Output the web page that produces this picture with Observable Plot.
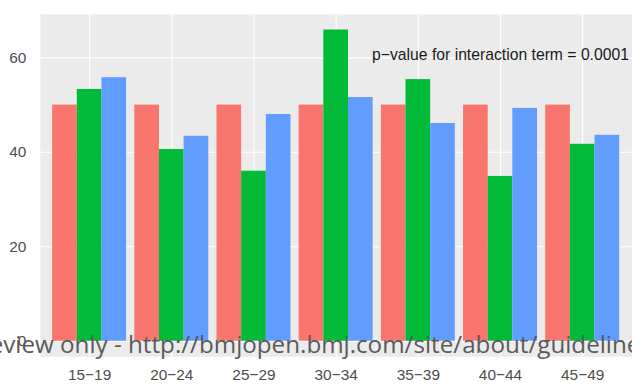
<!DOCTYPE html>
<html><head><meta charset="utf-8">
<script src="https://cdn.jsdelivr.net/npm/d3@7"></script>
<script src="https://cdn.jsdelivr.net/npm/@observablehq/plot@0.6"></script>
<style>
html,body{margin:0;padding:0;background:#fff;overflow:hidden;width:632px;height:389px}
#wrap{position:relative;width:632px;height:389px;overflow:hidden}
#wrap svg{display:block}
#wm{position:absolute;left:0;top:0;pointer-events:none}
</style></head><body><div id="wrap"></div>
<script>
// ---- data ----
const ages = ["15−19","20−24","25−29","30−34","35−39","40−44","45−49"];
const seriesNames = ["Group 1","Group 2","Group 3"];
const seriesColors = ["#F8766D","#00BA38","#619CFF"];
const group1Values = [50, 50, 50, 50, 50, 50, 50];
const group2Values = [53.3, 40.6, 36.0, 65.9, 55.4, 34.9, 41.7];
const group3Values = [55.8, 43.4, 48.0, 51.6, 46.1, 49.3, 43.6];
const yTicks = [0, 20, 40, 60];
const annotationText = "p−value for interaction term = 0.0001";
const annotationAge = "40−44";
const annotationY = 60.7;
const watermarkText = "For peer review only - http://bmjopen.bmj.com/site/about/guidelines.xhtml";

// ---- table ----
const seriesValues = [group1Values, group2Values, group3Values];
const rows = [];
ages.forEach((age, i) => {
  seriesNames.forEach((s, k) => rows.push({age, idx: i, series: s, k, value: seriesValues[k][i]}));
});
const dodge = 0.9, nS = seriesNames.length;
const yMax = d3.max(rows, d => d.value);
const yExp = yMax * 0.05;

const chart = Plot.plot({
  width: 635, height: 389,
  marginLeft: 40, marginRight: 0.5, marginTop: 14, marginBottom: 31,
  style: {fontFamily: "'Liberation Sans', Arial, sans-serif", fontSize: "15.5px", background: "#fff"},
  x: {type: "linear", domain: [-0.6, ages.length - 1 + 0.6]},
  y: {domain: [-yExp, yMax + yExp]},
  color: {domain: seriesNames, range: seriesColors},
  marks: [
    Plot.frame({fill: "#EBEBEB", stroke: null}),
    Plot.gridX(d3.range(ages.length), {stroke: "#fff", strokeOpacity: 1, strokeWidth: 1.1}),
    Plot.gridY(yTicks, {stroke: "#fff", strokeOpacity: 1, strokeWidth: 1.1}),
    Plot.rectY(rows, {
      x1: d => d.idx - dodge / 2 + d.k * dodge / nS,
      x2: d => d.idx - dodge / 2 + (d.k + 1) * dodge / nS,
      y1: 0, y2: "value", fill: "series", inset: 0
    }),
    Plot.text([{idx: ages.indexOf(annotationAge), y: annotationY, t: annotationText}], {
      x: "idx", y: "y", text: "t", fontSize: 15.8, fill: "#1a1a1a"
    }),
    Plot.axisX(d3.range(ages.length), {tickSize: 0, tickPadding: 12, color: "#4D4D4D", tickFormat: i => ages[i], label: null}),
    Plot.axisY(yTicks, {tickSize: 0, tickPadding: 14, color: "#4D4D4D", label: null})
  ]
});
document.getElementById("wrap").appendChild(chart);

// ---- watermark overlay ----
const wmFont = "24.2px 'Open Sans'";
const cv = document.createElement("canvas").getContext("2d");
cv.font = wmFont;
const prefix = watermarkText.slice(0, watermarkText.indexOf("http"));
const prefW = cv.measureText(prefix).width;
const svg = d3.select("#wrap").append("svg").attr("id", "wm").attr("width", 632).attr("height", 389);
svg.append("text")
  .attr("x", 128 - prefW).attr("y", 353)
  .attr("fill", "#5a5a5a")
  .style("font", wmFont)
  .style("white-space", "pre")
  .text(watermarkText);
</script>
</body></html>
